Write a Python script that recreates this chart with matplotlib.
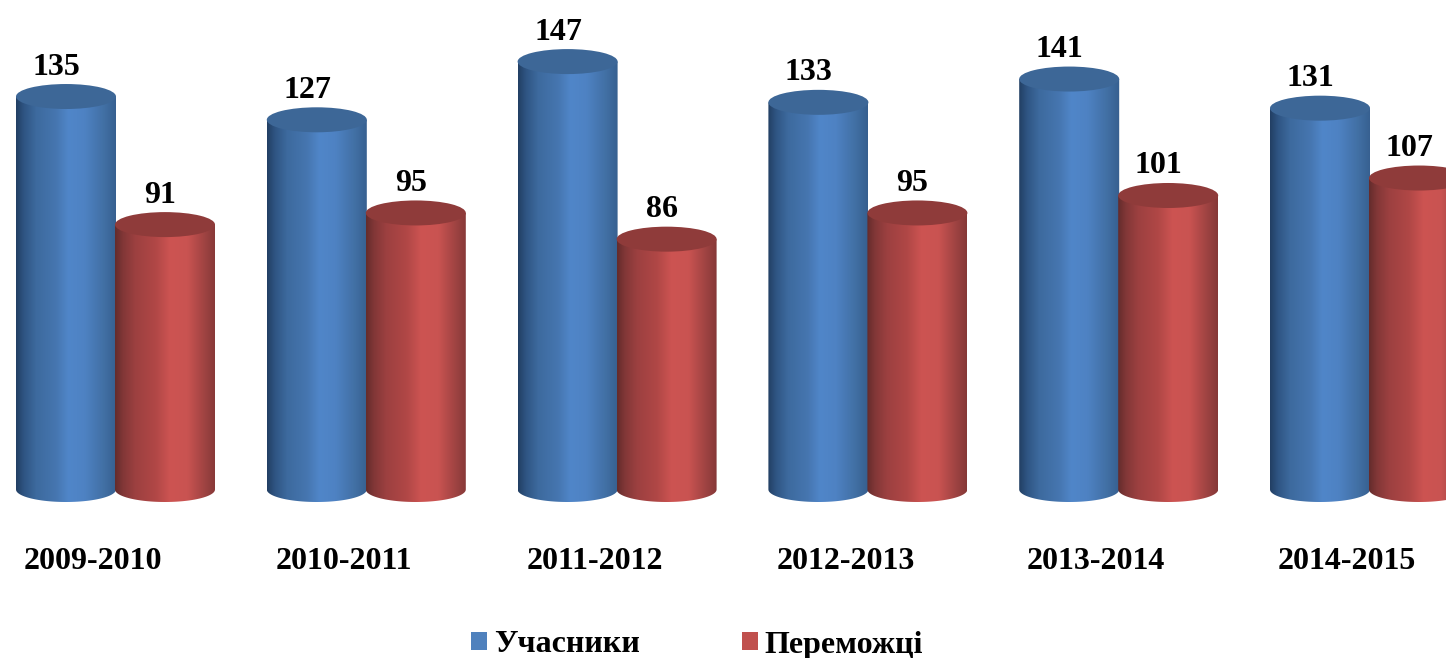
import numpy as np
import matplotlib
matplotlib.use("Agg")
import matplotlib.pyplot as plt
from matplotlib.colors import LinearSegmentedColormap
from matplotlib.patches import Ellipse, PathPatch, Patch
from matplotlib.path import Path

categories = ["2009-2010", "2010-2011", "2011-2012", "2012-2013", "2013-2014", "2014-2015"]
participants = [135, 127, 147, 133, 141, 131]
winners = [91, 95, 86, 95, 101, 107]
series_names = ["Учасники", "Переможці"]

W, H = 1446, 658
plt.rcParams["font.family"] = ["Liberation Serif", "DejaVu Serif"]
plt.rcParams["font.weight"] = "bold"

fig = plt.figure(figsize=(W / 100, H / 100), dpi=100, facecolor="white")
AX_BOTTOM_PX = 525
ax = fig.add_axes([0, 1 - AX_BOTTOM_PX / H, 1, AX_BOTTOM_PX / H])

PX_X = 250.8          # px per category
PX_Y = 2.911          # px per value
BASE_PX = 489.5
ax.set_xlim(-115.5 / PX_X, (W - 115.5) / PX_X)
ax.set_ylim(-(AX_BOTTOM_PX - BASE_PX) / PX_Y, BASE_PX / PX_Y)

bar_w = 100 / PX_X
cap_h = 25 / PX_Y
shift = 49.5 / PX_X

blue_side = LinearSegmentedColormap.from_list("b", [(0, "#223f63"), (0.08, "#2f5583"), (0.2, "#3d6a9e"), (0.4, "#4676b0"),
                                                     (0.52, "#5086c9"), (0.68, "#4e82c3"), (0.88, "#416fa3"), (1, "#365f8f")])
red_side = LinearSegmentedColormap.from_list("r", [(0, "#642c2c"), (0.08, "#823737"), (0.2, "#9c4040"), (0.4, "#b04746"),
                                                    (0.55, "#cd5452"), (0.72, "#c95351"), (0.9, "#9c4241"), (1, "#863837")])
grad = np.linspace(0, 1, 256).reshape(1, -1)


def cylinder(xc, val, cmap, cap_color, zorder):
    left, right = xc - bar_w / 2, xc + bar_w / 2
    t = np.linspace(np.pi, 2 * np.pi, 60)
    bx = xc + bar_w / 2 * np.cos(t)
    by = cap_h / 2 * np.sin(t)
    verts = np.vstack([[[left, val]], np.column_stack([bx, by]), [[right, val]], [[left, val]]])
    clip = PathPatch(Path(verts), transform=ax.transData)
    im = ax.imshow(grad, extent=(left, right, -cap_h, val), cmap=cmap, aspect="auto",
                   interpolation="bilinear", zorder=zorder)
    im.set_clip_path(clip)
    ax.add_patch(Ellipse((xc, val), bar_w, cap_h, facecolor=cap_color, edgecolor="none", zorder=zorder + 0.1))


def label(xc, val, zorder):
    text = str(val)
    dx = -9.5 if len(text) == 3 else -5
    ax.annotate(text, (xc, val), xytext=(dx * 0.72, 29.5 * 0.72), textcoords="offset points",
                ha="center", va="center", fontsize=23, fontweight="bold", color="black", zorder=zorder)


for i, (p, w) in enumerate(zip(participants, winners)):
    z = 2 + i
    cylinder(i - shift, p, blue_side, "#3d6797", z)
    cylinder(i + shift, w, red_side, "#8f3b3a", z + 0.3)
    label(i - shift, p, 20)
    label(i + shift, w, 20)

ax.set_xlim(-115.5 / PX_X, (W - 115.5) / PX_X)
ax.set_ylim(-(AX_BOTTOM_PX - BASE_PX) / PX_Y, BASE_PX / PX_Y)

ax.set_yticks([])
ax.set_xticks(np.arange(len(categories)) - 22.5 / PX_X)
ax.set_xticklabels(categories, fontsize=23, fontweight="bold")
ax.tick_params(axis="x", length=0, pad=15.5)
for s in ax.spines.values():
    s.set_visible(False)

handles = [Patch(facecolor="#4F81BD", edgecolor="none"), Patch(facecolor="#C0504D", edgecolor="none")]
fig.legend(handles, series_names, loc="center", bbox_to_anchor=(697 / W, 1 - 645 / H), ncol=2,
           frameon=False, prop={"size": 23, "weight": "bold"},
           handlelength=0.5, handleheight=0.5, handletextpad=0.22, columnspacing=3.2,
           borderpad=0, borderaxespad=0)

fig.savefig("out.png", dpi=100, facecolor="white")
